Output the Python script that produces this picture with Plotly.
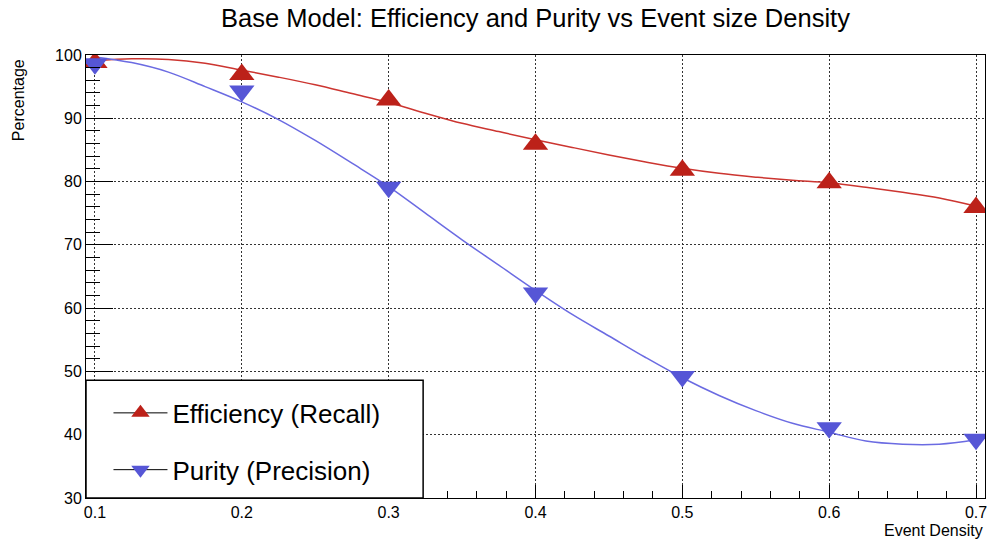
import plotly.graph_objects as go

# ---- data ----
density = [0.1, 0.2, 0.3, 0.4, 0.5, 0.6, 0.7]
efficiency = [98.8, 96.9, 92.9, 85.9, 81.8, 79.8, 75.9]
purity = [98.6, 94.3, 79.1, 62.4, 49.2, 41.1, 39.3]

curve_x = [0.100, 0.125, 0.150, 0.175, 0.200, 0.225, 0.250, 0.275, 0.300,
           0.325, 0.350, 0.375, 0.400, 0.425, 0.450, 0.475, 0.500, 0.525,
           0.550, 0.575, 0.600, 0.625, 0.650, 0.675, 0.700]
eff_curve = [99.1, 99.4, 99.3, 98.7, 97.6, 96.5, 95.3, 93.9, 92.5,
             90.8, 89.2, 87.9, 86.6, 85.4, 84.2, 83.1, 82.1, 81.3,
             80.7, 80.2, 79.8, 79.1, 78.3, 77.4, 76.1]
pur_curve = [99.7, 98.8, 97.3, 95.0, 92.6, 89.8, 86.5, 82.9, 79.2,
             75.0, 70.8, 66.8, 62.8, 59.0, 55.6, 52.2, 49.0, 46.2,
             43.8, 41.8, 40.4, 39.0, 38.5, 38.5, 39.2]

names = ["Efficiency (Recall)", "Purity (Precision)"]

RED_M, RED_L = "#BC2119", "#CC3530"
BLUE_M, BLUE_L = "#5656D6", "#6B6BE2"
FONT = "Liberation Sans, Arial, Helvetica, sans-serif"

fig = go.Figure()
fig.add_trace(go.Scatter(x=curve_x, y=eff_curve, mode="lines", line=dict(color=RED_L, width=1.5, shape="spline"),
                         showlegend=False, hoverinfo="skip"))
fig.add_trace(go.Scatter(x=curve_x, y=pur_curve, mode="lines", line=dict(color=BLUE_L, width=1.5, shape="spline"),
                         showlegend=False, hoverinfo="skip"))
fig.add_trace(go.Scatter(x=density, y=efficiency, mode="markers",
                         marker=dict(symbol="triangle-up", size=22, color=RED_M, line=dict(width=0)),
                         showlegend=False, name=names[0]))
fig.add_trace(go.Scatter(x=density, y=purity, mode="markers",
                         marker=dict(symbol="triangle-down", size=22, color=BLUE_M, line=dict(width=0)),
                         showlegend=False, name=names[1]))
# legend entries (black line + coloured marker, ROOT style)
fig.add_trace(go.Scatter(x=[None], y=[None], mode="lines+markers", name=names[0], legendgroup="a",
                         line=dict(color="black", width=1),
                         marker=dict(symbol="triangle-up", size=22, color=RED_M)))
fig.add_trace(go.Scatter(x=[None], y=[None], mode="lines+markers", name=names[1], legendgroup="b",
                         line=dict(color="black", width=1),
                         marker=dict(symbol="triangle-down", size=22, color=BLUE_M)))

axis_common = dict(showline=True, linecolor="black", linewidth=1, mirror=True,
                   ticks="inside", tickcolor="black", showgrid=True, gridcolor="#333333",
                   griddash="1.5px,2.5px", gridwidth=1, zeroline=False,
                   tickfont=dict(size=16, color="black", family=FONT))

fig.update_xaxes(range=[0.0939, 0.7061], tickvals=density, ticktext=["0.1", "0.2", "0.3", "0.4", "0.5", "0.6", "0.7"],
                 ticklen=13, minor=dict(dtick=0.02, tick0=0.1, ticklen=7, ticks="inside", tickcolor="black", showgrid=False),
                 **axis_common)
fig.update_yaxes(range=[30, 100], dtick=10, ticklen=27,
                 minor=dict(dtick=2, ticklen=14, ticks="inside", tickcolor="black", showgrid=False),
                 **axis_common)

fig.update_layout(
    width=990, height=539,
    margin=dict(l=86, r=3, t=55, b=41),
    paper_bgcolor="white", plot_bgcolor="white",
    font=dict(family=FONT, color="black"),
    title=dict(text="Base Model: Efficiency and Purity vs Event size Density", x=0.5, xref="paper",
               xanchor="center", y=0.966, yanchor="middle", font=dict(size=25.5, color="black")),
    legend=dict(x=0.025, y=0.245, xanchor="left", yanchor="top", bgcolor="rgba(0,0,0,0)",
                borderwidth=0, font=dict(size=26, color="black", family=FONT),
                itemwidth=54, tracegroupgap=20, traceorder="grouped", itemsizing="trace"),
    shapes=[dict(type="rect", xref="paper", yref="paper", x0=0, x1=0.375, y0=0, y1=0.266,
                 fillcolor="white", line=dict(color="black", width=1.5), layer="above")],
    annotations=[
        dict(text="Percentage", xref="paper", yref="paper", x=(18 - 86) / 901, y=(498 - 100) / 443,
             textangle=-90, showarrow=False, font=dict(size=16, color="black"), xanchor="center", yanchor="middle"),
        dict(text="Event Density", xref="paper", yref="paper", x=1.0, y=-(530 - 498) / 443,
             showarrow=False, font=dict(size=16, color="black"), xanchor="right", yanchor="middle"),
    ],
)

fig.write_html("out.html")
